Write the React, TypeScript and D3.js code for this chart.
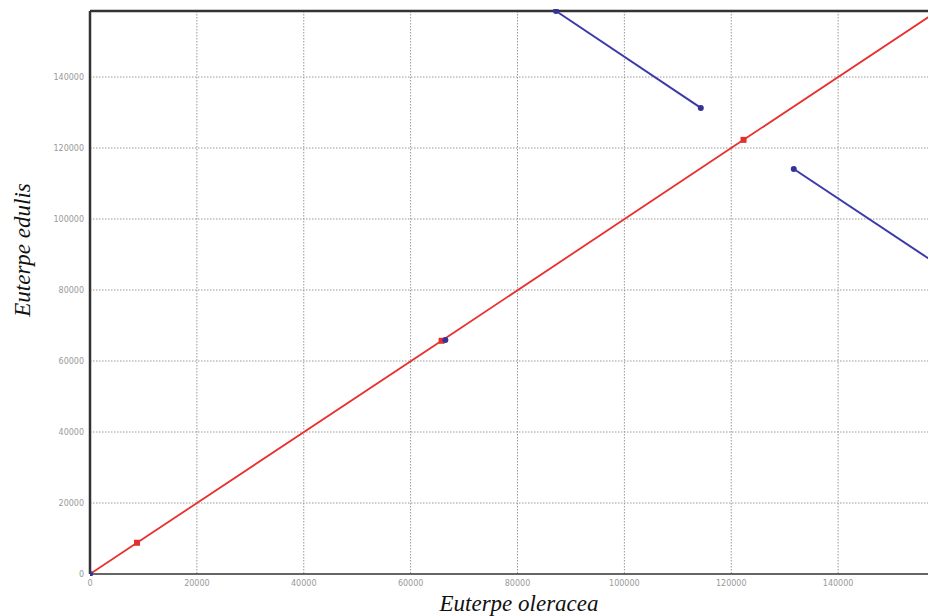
import React from 'react';
import * as d3 from 'd3';

const width = 928;
const height = 616;
const margin = { top: 11, right: -17, bottom: 42, left: 90 };

const ticks = [0, 20000, 40000, 60000, 80000, 100000, 120000, 140000];

// forward alignment (red), breakpoints marked
const forward = [
  [0, 0],
  [8800, 8800],
  [65800, 65700],
  [122300, 122300],
  [159000, 159000],
];
const forwardMarks = [
  [8800, 8800],
  [65800, 65700],
  [122300, 122300],
];

// inverted repeats (blue)
const inverted = [
  [
    [87200, 158600],
    [114300, 131300],
  ],
  [
    [131700, 114100],
    [159000, 86800],
  ],
];
const invertedMarks = [
  [0, 0],
  [66500, 65900],
  [87200, 158600],
  [114300, 131300],
  [131700, 114100],
];

export default function App() {
  const x = d3
    .scaleLinear()
    .domain([0, 160000])
    .range([margin.left, width - margin.right]);
  const y = d3
    .scaleLinear()
    .domain([0, 158600])
    .range([height - margin.bottom, margin.top]);

  const line = d3
    .line<number[]>()
    .x((d) => x(d[0]))
    .y((d) => y(d[1]));

  const bottom = height - margin.bottom;

  return (
    <svg
      width={width}
      height={height}
      style={{ position: 'absolute', left: 0, top: 0, background: '#fff' }}
    >
      <defs>
        <clipPath id="plot">
          <rect x={margin.left} y={margin.top - 2} width={width} height={bottom - margin.top + 4} />
        </clipPath>
      </defs>

      {/* grid */}
      <g stroke="#999" strokeWidth={1} strokeDasharray="1.5,1.5">
        {ticks.slice(1).map((t) => (
          <line key={'gx' + t} x1={x(t)} x2={x(t)} y1={margin.top} y2={bottom} />
        ))}
        {ticks.slice(1).map((t) => (
          <line key={'gy' + t} x1={margin.left} x2={width} y1={y(t)} y2={y(t)} />
        ))}
      </g>

      {/* tick labels */}
      <g fill="#999" fontFamily="DejaVu Sans, sans-serif" fontSize={8}>
        {ticks.map((t) => (
          <text key={'tx' + t} x={x(t)} y={bottom + 12} textAnchor="middle">
            {t}
          </text>
        ))}
        {ticks.map((t) => (
          <text key={'ty' + t} x={margin.left - 6} y={y(t) + 3} textAnchor="end">
            {t}
          </text>
        ))}
      </g>

      {/* frame */}
      <line x1={margin.left} x2={width} y1={margin.top} y2={margin.top} stroke="#333" strokeWidth={2.5} />
      <line x1={margin.left} x2={margin.left} y1={margin.top} y2={bottom} stroke="#333" strokeWidth={2.5} />
      <line x1={margin.left} x2={width} y1={bottom} y2={bottom} stroke="#333" strokeWidth={1.5} />

      <g clipPath="url(#plot)">
        <path d={line(forward) ?? ''} fill="none" stroke="#e8302e" strokeWidth={1.8} />
        {inverted.map((seg, i) => (
          <path key={'inv' + i} d={line(seg) ?? ''} fill="none" stroke="#3a3aa8" strokeWidth={2} />
        ))}
        {forwardMarks.map((d, i) => (
          <rect key={'fm' + i} x={x(d[0]) - 3} y={y(d[1]) - 3} width={6} height={6} fill="#e03030" />
        ))}
        {invertedMarks.map((d, i) => (
          <circle key={'im' + i} cx={x(d[0])} cy={y(d[1])} r={3} fill="#343498" />
        ))}
      </g>

      {/* axis titles */}
      <text
        x={519}
        y={611}
        textAnchor="middle"
        fontFamily="Liberation Serif, serif"
        fontStyle="italic"
        fontSize={23}
        fill="#111"
      >
        Euterpe oleracea
      </text>
      <text
        transform="translate(30,250) rotate(-90)"
        textAnchor="middle"
        fontFamily="Liberation Serif, serif"
        fontStyle="italic"
        fontSize={23}
        fill="#111"
      >
        Euterpe edulis
      </text>
    </svg>
  );
}
